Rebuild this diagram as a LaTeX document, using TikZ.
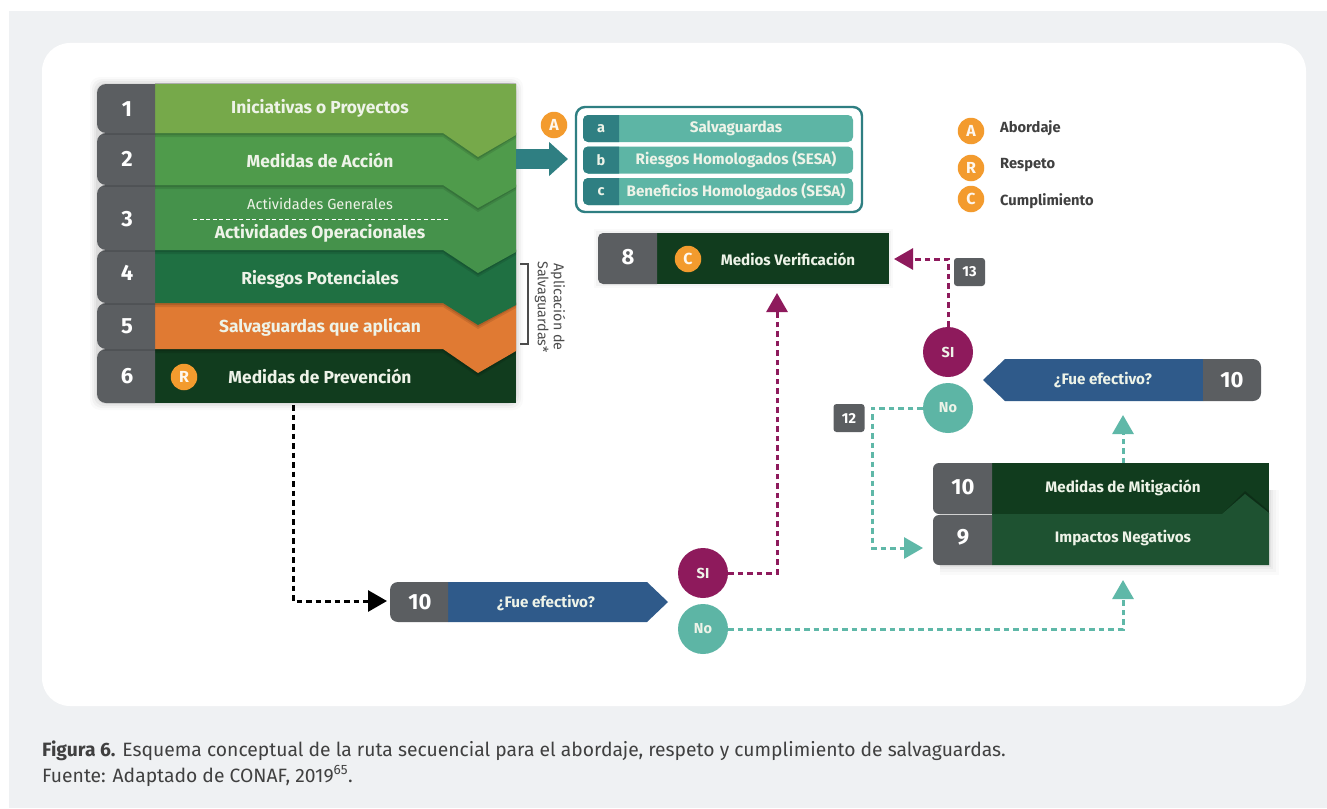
\documentclass[tikz,border=0pt]{standalone}
\usepackage{fontspec}
\setmainfont{Fira Sans}
\usetikzlibrary{arrows.meta,calc}
\definecolor{bandgray}{HTML}{EFF1F3}
\definecolor{tabgray}{HTML}{5B5E61}
\definecolor{rowa}{HTML}{76A94A}
\definecolor{rowb}{HTML}{4F9B4B}
\definecolor{rowc}{HTML}{45924B}
\definecolor{rowd}{HTML}{1F7042}
\definecolor{rowe}{HTML}{E07A33}
\definecolor{darkgreen}{HTML}{113C1E}
\definecolor{midgreen}{HTML}{1E5231}
\definecolor{badge}{HTML}{F39B2E}
\definecolor{tealdark}{HTML}{2F7F82}
\definecolor{teallight}{HTML}{5DB5A5}
\definecolor{tealline}{HTML}{5FB8A8}
\definecolor{purple}{HTML}{8E1A5C}
\definecolor{navy}{HTML}{2F5A8A}
\definecolor{labelwhite}{HTML}{EEF3E8}
\tikzset{
  x=1pt,y=-1pt,
  lab/.style={text=labelwhite,font=\bfseries\fontsize{17.4}{19}\selectfont,inner sep=0pt},
  num/.style={text=white,font=\bfseries\fontsize{22}{24}\selectfont,inner sep=0pt},
  small/.style={text=labelwhite,font=\bfseries\fontsize{15.2}{17}\selectfont,inner sep=0pt},
  subnum/.style={text=labelwhite,font=\bfseries\fontsize{14.5}{16}\selectfont,inner sep=0pt},
  badgenode/.style={circle,fill=badge,minimum size=26.5pt,inner sep=0pt,text=white!92!badge,font=\bfseries\fontsize{16}{18}\selectfont},
  yesnode/.style={circle,fill=purple,minimum size=50pt,inner sep=0pt,text=labelwhite,font=\bfseries\fontsize{14.5}{16}\selectfont},
  nonode/.style={circle,fill=teallight,minimum size=50pt,inner sep=0pt,text=labelwhite,font=\bfseries\fontsize{14.5}{16}\selectfont},
  tagnode/.style={fill=tabgray,rounded corners=3pt,minimum width=31pt,minimum height=28pt,inner sep=0pt,text=white,font=\bfseries\fontsize{14.5}{16}\selectfont},
  flow/.style={line width=3pt,dash pattern=on 5.5pt off 4pt,
     -{Triangle[width=21pt,length=19pt]}},
  legendtext/.style={anchor=west,inner sep=0pt,text=black!75,font=\bfseries\fontsize{14.7}{17}\selectfont},
  captext/.style={anchor=base west,inner sep=0pt,text=black!75,font=\fontsize{19.3}{22}\selectfont},
}
% tab: colour, x left, x right (clip), top, bottom, radius
\newcommand{\tableft}[6]{%
  \begin{scope}
    \clip (#2-1,#4-1) rectangle (#3,#5+1);
    \fill[#1,rounded corners=#6pt] (#2,#4) rectangle (#3+20,#5);
  \end{scope}}
\newcommand{\tabright}[6]{%
  \begin{scope}
    \clip (#2,#4-1) rectangle (#3+1,#5+1);
    \fill[#1,rounded corners=#6pt] (#2-20,#4) rectangle (#3,#5);
  \end{scope}}
% top, bottom, tip, colour
\newcommand{\stackrow}[4]{%
  \fill[black,opacity=.10] (155,#1-1) -- (516,#1-1) -- (516,#2+5) -- (478,#3+4) -- (443,#2+4) -- (155,#2+4) -- cycle;
  \fill[black,opacity=.12] (155,#1-1) -- (516,#1-1) -- (516,#2+3) -- (478,#3+2) -- (443,#2+2) -- (155,#2+2) -- cycle;
  \fill[#4] (155,#1) -- (516,#1) -- (516,#2+2) -- (478,#3) -- (443,#2) -- (155,#2) -- cycle;
  \fill[black,opacity=.12] (103,#2) rectangle (155,#2+2);
  \tableft{tabgray}{97}{155}{#1}{#2}{9}
}
\begin{document}
\begin{tikzpicture}
\useasboundingbox (0,0) rectangle (1327,808);
\fill[white] (0,0) rectangle (1327,808);
\fill[bandgray] (9,11) rectangle (1327,808);
\fill[white,rounded corners=28pt] (42,43) rectangle (1306,706);

% soft shadow round the stack
\foreach \e/\o in {7/.02,5/.03,3/.04,1/.05}{
  \fill[black,opacity=\o,rounded corners=10pt] (97-\e,84-\e) rectangle (516+\e,403+\e);
}
% stack, bottom first
\fill[darkgreen] (155,349) rectangle (516,403);
\tableft{tabgray}{97}{155}{349}{403}{9}
\stackrow{303}{349}{373}{rowe}
\stackrow{250}{303}{325}{rowd}
\stackrow{185}{250}{273}{rowc}
\stackrow{133}{185}{208}{rowb}
\stackrow{84}{133}{157}{rowa}

\node[num] (n1) at (127,109) {1};
\node[num] (n2) at (127,159) {2};
\node[num] (n3) at (127,219) {3};
\node[num] (n4) at (127,273) {4};
\node[num] (n5) at (127,326) {5};
\node[num] (n6) at (127,376) {6};

\node[lab] (t1) at (320,108) {Iniciativas o Proyectos};
\node[lab] (t2) at (320,160) {Medidas de Acción};
\node[text=labelwhite,inner sep=0pt,font=\fontsize{14.6}{16}\selectfont] (t3a) at (320,204) {Actividades Generales};
\draw[white,line width=.8pt,dash pattern=on 4pt off 2.6pt] (193,219) -- (448,219);
\node[lab] (t3b) at (320,233) {Actividades Operacionales};
\node[lab] (t4) at (320,279) {Riesgos Potenciales};
\node[lab] (t5) at (320,327) {Salvaguardas que aplican};
\node[lab] (t6) at (320,376) {Medidas de Prevención};
\node[badgenode] (bR) at (184,377) {R};

% bracket
\draw[black!70,line width=1.4pt] (520,264) -- (528,264) -- (528,344) -- (520,344);
\node[rotate=-90,align=center,text=black!70,inner sep=0pt,font=\fontsize{14.3}{16}\selectfont] (ap) at (550,307) {Aplicación de\\Salvaguardas*};

% arrow to the list
\coordinate (stackE) at (516,159);
\coordinate (boxW) at (568,159);
\draw[tealdark,line width=20pt,-{Triangle[width=33pt,length=19pt]}] (stackE) -- (boxW);

% list box
\draw[tealdark,line width=2.4pt,rounded corners=9pt,fill=white] (576,107) rectangle (862,212);
\node[badgenode] (bA) at (554,125) {A};
\foreach \top/\lett/\txt/\nm in {115/a/Salvaguardas/la,146.5/b/Riesgos Homologados (SESA)/lb,178/c/Beneficios Homologados (SESA)/lc}{
  \fill[teallight,rounded corners=5pt] (583,\top) rectangle (853,\top+27);
  \tableft{tealdark}{583}{619}{\top}{\top+27}{5}
  \node[subnum] (\nm t) at (601,\top+13.5) {\lett};
  \node[small] (\nm) at (736,\top+13.5) {\txt};
}

% legend
\node[badgenode] (lA) at (971,131) {A};
\node[badgenode] (lR) at (971,168) {R};
\node[badgenode] (lC) at (971,199) {C};
\node[legendtext] (lAt) at (1000,128) {Abordaje};
\node[legendtext] (lRt) at (1000,165) {Respeto};
\node[legendtext] (lCt) at (1000,201) {Cumplimiento};

% box 8
\foreach \e/\o in {4/.02,2/.03}{
  \fill[black,opacity=\o] (598-\e,233-\e) rectangle (889+\e,284+\e);
}
\fill[darkgreen] (657,233) rectangle (889,284);
\tableft{tabgray}{598}{657}{233}{284}{5}
\node[num] (n8) at (628,257) {8};
\node[badgenode] (bC) at (688,259) {C};
\node[small] (t8) at (788,259) {Medios Verificación};
\coordinate (box8E) at (894,259);
\coordinate (box8S) at (777,293);

% right pentagon
\fill[navy] (1203,359) -- (1005,359) -- (983,380) -- (1005,401) -- (1203,401) -- cycle;
\tabright{tabgray}{1203}{1261}{359}{401}{8}
\node[num] (n10r) at (1232,380) {10};
\node[small] (tfr) at (1103,380) {¿Fue efectivo?};

% boxes 10 and 9
\foreach \e/\o in {10/.02,7/.025,4/.03,2/.04}{
  \fill[black,opacity=\o] (940,490) rectangle (1269+\e,565+\e);
}
\fill[darkgreen] (992,463) rectangle (1269,515);
\tableft{tabgray}{933}{992}{463}{514}{6}
\fill[black,opacity=.22] (1222,514) -- (1245,491) -- (1269,511) -- (1269,514) -- cycle;
\fill[midgreen] (992,514) -- (1222,514) -- (1245,494) -- (1269,513) -- (1269,565) -- (992,565) -- cycle;
\tableft{tabgray}{933}{992}{515}{565}{6}
\node[num] (n10m) at (963,487) {10};
\node[num] (n9) at (963,537) {9};
\node[small] (t10m) at (1123,488) {Medidas de Mitigación};
\node[small] (t9) at (1123,538) {Impactos Negativos};

% lower pentagon
\fill[navy] (448,582) -- (647,582) -- (668,602) -- (647,622) -- (448,622) -- cycle;
\tableft{tabgray}{390}{448}{582}{622}{8}
\node[num] (n10b) at (420,602) {10};
\node[small] (tfb) at (546,603) {¿Fue efectivo?};

% decision circles
\node[yesnode] (si1) at (703,573) {SI};
\node[nonode] (no1) at (703,629) {No};
\node[yesnode] (si2) at (948,352) {SI};
\node[nonode] (no2) at (948,408) {No};

% tags
\node[tagnode] (t13) at (969.5,272) {13};
\node[tagnode] (t12) at (849,418) {12};

% connectors
\coordinate (stackS) at (293,405);
\coordinate (corner1) at (293,601);
\coordinate (p10W) at (387,601);
\draw[flow,black] (stackS) -- (corner1) -- (p10W);
\coordinate (c2) at (777,573);
\draw[flow,purple] (si1.east) -- (c2) -- (box8S);
\coordinate (c3) at (948,259);
\draw[flow,purple] (si2.north) -- (c3) -- (box8E);
\coordinate (c4) at (1123,629);
\coordinate (box9S) at (1123,580);
\draw[flow,tealline] (no1.east) -- (c4) -- (box9S);
\coordinate (c5) at (872,408);
\coordinate (c6) at (872,548);
\coordinate (box9W) at (923,548);
\draw[flow,tealline] (no2.west) -- (c5) -- (c6) -- (box9W);
\coordinate (box10N) at (1123,463);
\coordinate (pentS) at (1123,415);
\draw[flow,tealline] (box10N) -- (pentS);

% caption
\node[captext] (cap1) at (42,756) {\textbf{Figura 6.} Esquema conceptual de la ruta secuencial para el abordaje, respeto y cumplimiento de salvaguardas.};
\node[captext] (cap2) at (42,782) {Fuente: Adaptado de CONAF, 2019\textsuperscript{65}.};
\end{tikzpicture}
\end{document}
